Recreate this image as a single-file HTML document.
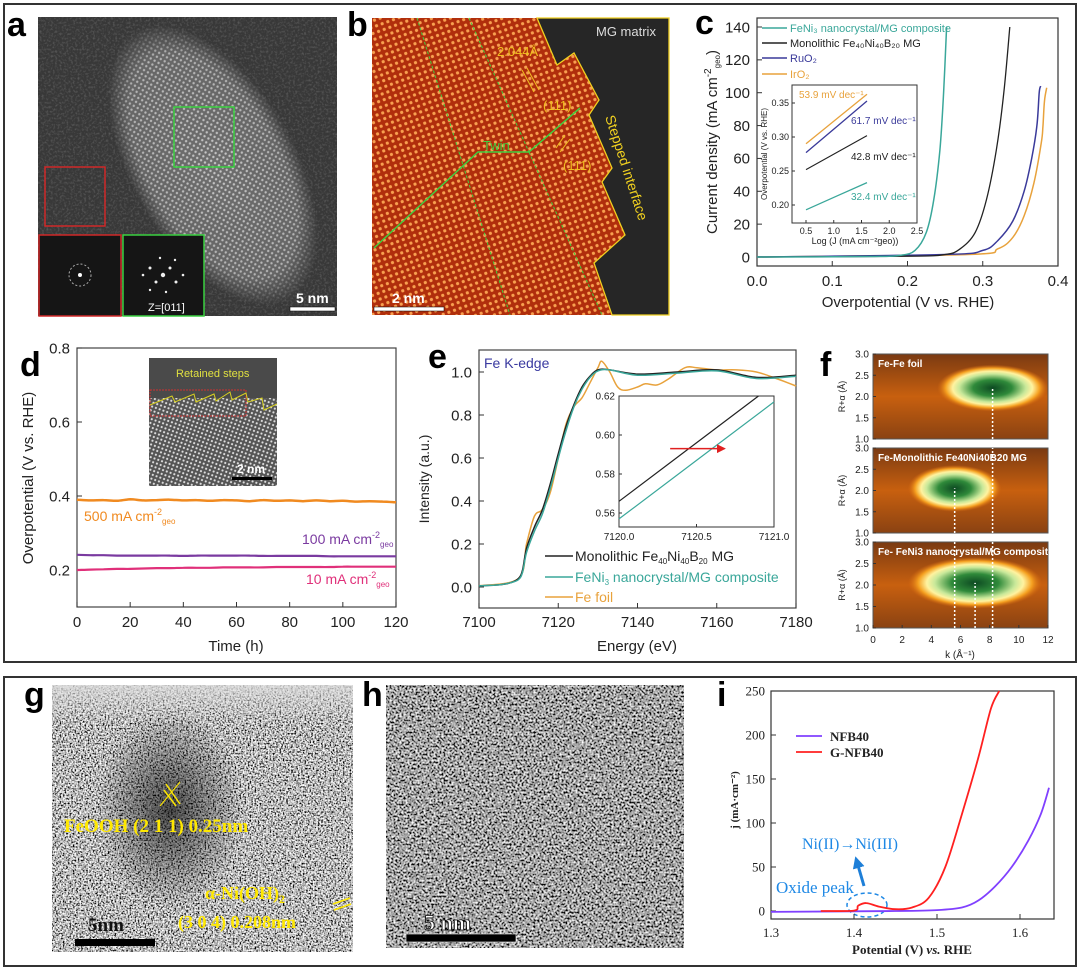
<!DOCTYPE html>
<html><head><meta charset="utf-8">
<style>
html,body{margin:0;padding:0;background:#fff;}
svg{display:block;font-family:"Liberation Sans",Arial,sans-serif;}
.lbl{font-weight:bold;font-size:34px;fill:#000;}
.tk{font-size:14px;fill:#222;}
.serif{font-family:"Liberation Serif",serif;}
</style></head>
<body>
<svg id="fig" width="1080" height="969" viewBox="0 0 1080 969" xmlns="http://www.w3.org/2000/svg">
<defs>
  <pattern id="dotsA" width="4.5" height="4.5" patternUnits="userSpaceOnUse" patternTransform="rotate(30)">
    <rect width="4.5" height="4.5" fill="#6e6e6e"/><circle cx="2.25" cy="2.25" r="1.2" fill="#c8c8c8"/>
  </pattern>
  <pattern id="dotsB" width="6" height="6" patternUnits="userSpaceOnUse" patternTransform="rotate(-20)">
    <rect width="6" height="6" fill="#b02e0c"/><circle cx="3" cy="3" r="1.6" fill="#f8a050"/>
  </pattern>
  <pattern id="dotsD" width="4" height="4" patternUnits="userSpaceOnUse" patternTransform="rotate(20)">
    <rect width="4" height="4" fill="#555"/><circle cx="2" cy="2" r="1.1" fill="#ddd"/>
  </pattern>
  <filter id="noiseG" x="0" y="0" width="100%" height="100%">
    <feTurbulence type="fractalNoise" baseFrequency="0.6" numOctaves="2" seed="3"/>
    <feColorMatrix type="matrix" values="2.6 0 0 0 -0.8  2.6 0 0 0 -0.8  2.6 0 0 0 -0.8  0 0 0 0 1"/>
  </filter>
  <filter id="noiseH" x="0" y="0" width="100%" height="100%">
    <feTurbulence type="fractalNoise" baseFrequency="0.5" numOctaves="2" seed="7"/>
    <feColorMatrix type="matrix" values="2.2 0 0 0 -0.72  2.2 0 0 0 -0.72  2.2 0 0 0 -0.72  0 0 0 0 1"/>
  </filter>
  <filter id="noise2" x="0" y="0" width="100%" height="100%">
    <feTurbulence type="fractalNoise" baseFrequency="0.45" numOctaves="2" seed="7"/>
    <feColorMatrix type="matrix" values="0 0 0 0 1  0 0 0 0 1  0 0 0 0 1  0 0 0 2.2 -1.0"/>
  </filter>
  <radialGradient id="blob" cx="50%" cy="50%" r="50%">
    <stop offset="0" stop-color="#000" stop-opacity="0.65"/>
    <stop offset="1" stop-color="#000" stop-opacity="0"/>
  </radialGradient>
  <radialGradient id="heat" cx="50%" cy="50%" r="50%">
    <stop offset="0" stop-color="#0d4a22"/>
    <stop offset="0.35" stop-color="#2f8a3a"/>
    <stop offset="0.6" stop-color="#c8e89a"/>
    <stop offset="0.72" stop-color="#fff3a0"/>
    <stop offset="0.85" stop-color="#f5a020"/>
    <stop offset="1" stop-color="#d86a10" stop-opacity="0"/>
  </radialGradient>
  <linearGradient id="heatbg" x1="0" y1="0" x2="0" y2="1">
    <stop offset="0" stop-color="#7a3a12"/>
    <stop offset="0.5" stop-color="#c8600f"/>
    <stop offset="1" stop-color="#8a4212"/>
  </linearGradient>
  <linearGradient id="gtop" x1="0" y1="0" x2="0" y2="1">
    <stop offset="0" stop-color="#ddd" stop-opacity="0.8"/>
    <stop offset="1" stop-color="#ddd" stop-opacity="0"/>
  </linearGradient>
  <radialGradient id="brightA" cx="50%" cy="50%" r="50%">
    <stop offset="0" stop-color="#fff" stop-opacity="1"/>
    <stop offset="0.8" stop-color="#fff" stop-opacity="0.85"/>
    <stop offset="1" stop-color="#fff" stop-opacity="0"/>
  </radialGradient>
  <mask id="maskA"><ellipse cx="213" cy="165" rx="155" ry="82" transform="rotate(60 213 165)" fill="url(#brightA)"/></mask>
  <marker id="arrRed" markerWidth="6" markerHeight="6" refX="5" refY="3" orient="auto"><path d="M0,0 L6,3 L0,6z" fill="#e02020"/></marker>
  <marker id="arrBlue" markerWidth="4" markerHeight="4" refX="2" refY="2" orient="auto"><path d="M0,0 L4,2 L0,4z" fill="#1e7fd8"/></marker>
</defs>

<!-- frames -->
<rect x="4" y="4" width="1072" height="658" fill="none" stroke="#333" stroke-width="2"/>
<rect x="4" y="677" width="1072" height="289" fill="none" stroke="#333" stroke-width="2"/>

<!-- panel a -->
<g>
  <rect x="38" y="17" width="299" height="299" fill="#383838"/>
  <rect x="38" y="17" width="299" height="299" filter="url(#noise2)" opacity="0.18"/>
  <rect x="38" y="17" width="299" height="299" fill="url(#dotsA)" mask="url(#maskA)"/>
  <rect x="174" y="107" width="60" height="60" fill="none" stroke="#3ad040" stroke-width="1.5"/>
  <rect x="45" y="167" width="60" height="59" fill="none" stroke="#d02828" stroke-width="1.5"/>
  <rect x="39" y="235" width="82" height="81" fill="#151515" stroke="#d02828" stroke-width="1.5"/>
  <circle cx="80" cy="275" r="11" fill="none" stroke="#aaa" stroke-width="1" stroke-dasharray="2 2"/>
  <circle cx="80" cy="275" r="2" fill="#fff"/>
  <rect x="123" y="235" width="81" height="81" fill="#151515" stroke="#3ad040" stroke-width="1.5"/>
  <g fill="#eee"><circle cx="163" cy="275" r="2.2"/><circle cx="150" cy="268" r="1.5"/><circle cx="176" cy="282" r="1.5"/><circle cx="156" cy="282" r="1.5"/><circle cx="170" cy="268" r="1.5"/><circle cx="143" cy="275" r="1.3"/><circle cx="183" cy="275" r="1.3"/><circle cx="160" cy="258" r="1.2"/><circle cx="166" cy="292" r="1.2"/><circle cx="175" cy="260" r="1.2"/><circle cx="150" cy="290" r="1.2"/></g>
  <text x="148" y="311" font-size="11" fill="#fff">Z=[011]</text>
  <text x="296" y="303" font-size="14" font-weight="bold" fill="#fff">5 nm</text>
  <rect x="290" y="307" width="45" height="4" fill="#fff" stroke="#000" stroke-width="0.5"/>
</g>
<text class="lbl" x="7" y="36">a</text>

<!-- panel b -->
<g>
  <rect x="372" y="18" width="297" height="297" fill="url(#dotsB)"/>
  <polygon points="537,18 557,65 574,53 599,100 589,115 612,168 602,182 625,235 594,263 612,315 669,315 669,18" fill="#262626"/>
  <polygon points="537,18 557,65 574,53 599,100 589,115 612,168 602,182 625,235 594,263 612,315 669,315 669,18" fill="none" stroke="#f0d020" stroke-width="1.3"/>
  <polyline points="374,248 478,152 529,152 580,108" fill="none" stroke="#40d040" stroke-width="1.5"/>
  <line x1="417" y1="18" x2="510" y2="315" stroke="#40d040" stroke-width="1" stroke-dasharray="3 2"/>
  <line x1="469" y1="18" x2="529" y2="152" stroke="#40d040" stroke-width="1" stroke-dasharray="3 2"/>
  <line x1="529" y1="152" x2="602" y2="315" stroke="#40d040" stroke-width="1" stroke-dasharray="3 2"/>
  <text x="596" y="36" font-size="13" fill="#ddd">MG matrix</text>
  <text x="497" y="56" font-size="13" fill="#f0c020">2.044Å</text>
  <line x1="522" y1="70" x2="534" y2="92" stroke="#f0c020"/><line x1="527" y1="68" x2="539" y2="90" stroke="#f0c020"/>
  <text x="543" y="110" font-size="13" fill="#f0c020">(111)</text>
  <line x1="556" y1="148" x2="565" y2="135" stroke="#f0c020"/><line x1="560" y1="152" x2="570" y2="139" stroke="#f0c020"/>
  <text x="563" y="170" font-size="13" fill="#f0c020">(111)</text>
  <text x="483" y="150" font-size="13" fill="#40d040">Twin</text>
  <text x="0" y="0" font-size="14" fill="#f0d020" transform="translate(605,117) rotate(72)">Stepped interface</text>
  <text x="392" y="303" font-size="14" font-weight="bold" fill="#fff">2 nm</text>
  <rect x="374" y="307" width="70" height="4" fill="#fff" stroke="#000" stroke-width="0.5"/>
</g>
<text class="lbl" x="347" y="36">b</text>

<!-- panel c static -->
<text class="lbl" x="695" y="34">c</text>
<rect x="757" y="18" width="301" height="248" fill="none" stroke="#333" stroke-width="1.2"/>
<text x="908" y="307" font-size="15" text-anchor="middle" fill="#222">Overpotential (V vs. RHE)</text>
<text transform="translate(717,142) rotate(-90)" font-size="15" text-anchor="middle" fill="#222">Current density (mA cm<tspan dy="-6" font-size="10">-2</tspan><tspan dy="9" font-size="8">geo</tspan><tspan dy="-3">)</tspan></text>
<g font-size="11">
  <line x1="762" y1="28" x2="787" y2="28" stroke="#3aa79a" stroke-width="1.5"/><text x="790" y="32" fill="#3aa79a">FeNi₃ nanocrystal/MG composite</text>
  <line x1="762" y1="43" x2="787" y2="43" stroke="#222" stroke-width="1.5"/><text x="790" y="47" fill="#222">Monolithic Fe₄₀Ni₄₀B₂₀ MG</text>
  <line x1="762" y1="58" x2="787" y2="58" stroke="#3a3a9a" stroke-width="1.5"/><text x="790" y="62" fill="#3a3a9a">RuO₂</text>
  <line x1="762" y1="74" x2="787" y2="74" stroke="#e8a23c" stroke-width="1.5"/><text x="790" y="78" fill="#e8a23c">IrO₂</text>
</g>
<rect x="792" y="85" width="125" height="138" fill="#fff" stroke="#333" stroke-width="1"/>
<text x="855" y="244" font-size="9" text-anchor="middle" fill="#222">Log (J (mA cm⁻²geo))</text>
<text transform="translate(767,154) rotate(-90)" font-size="8" text-anchor="middle" fill="#222">Overpotential (V vs. RHE)</text>
<g font-size="10">
  <text x="799" y="98" fill="#e8a23c">53.9 mV dec⁻¹</text>
  <text x="851" y="124" fill="#3a3a9a">61.7 mV dec⁻¹</text>
  <text x="851" y="160" fill="#222">42.8 mV dec⁻¹</text>
  <text x="851" y="200" fill="#3aa79a">32.4 mV dec⁻¹</text>
</g>

<!-- panel d static -->
<text class="lbl" x="20" y="376">d</text>
<rect x="77" y="348" width="319" height="259" fill="none" stroke="#444" stroke-width="1.2"/>
<text x="236" y="651" font-size="15" text-anchor="middle" fill="#222">Time (h)</text>
<text transform="translate(33,478) rotate(-90)" font-size="15" text-anchor="middle" fill="#222">Overpotential (V vs. RHE)</text>
<g>
  <rect x="149" y="358" width="128" height="128" fill="#555"/>
  <rect x="149" y="395" width="128" height="91" fill="url(#dotsD)"/>
  <rect x="149" y="358" width="128" height="40" fill="#4a4a4a"/>
  <rect x="150" y="390" width="96" height="26" fill="none" stroke="#d03030" stroke-width="1" stroke-dasharray="2 1"/>
  <polyline points="150,405 172,396 175,402 194,394 196,402 214,394 216,401 230,392 232,400 246,393 248,402 262,398 264,410 277,404" fill="none" stroke="#d8d020" stroke-width="1"/>
  <text x="176" y="377" font-size="11" fill="#e0e040">Retained steps</text>
  <text x="237" y="473" font-size="12" font-weight="bold" fill="#fff">2 nm</text>
  <rect x="232" y="477" width="40" height="3" fill="#000"/>
</g>
<text x="84" y="521" font-size="14" fill="#f08a20">500 mA cm<tspan dy="-6" font-size="9">-2</tspan><tspan dy="9" font-size="8">geo</tspan></text>
<text x="302" y="544" font-size="14" fill="#7a3aa0">100 mA cm<tspan dy="-6" font-size="9">-2</tspan><tspan dy="9" font-size="8">geo</tspan></text>
<text x="306" y="584" font-size="14" fill="#e0307a">10 mA cm<tspan dy="-6" font-size="9">-2</tspan><tspan dy="9" font-size="8">geo</tspan></text>

<!-- panel e static -->
<text class="lbl" x="428" y="368">e</text>
<rect x="479" y="350" width="317" height="258" fill="none" stroke="#444" stroke-width="1.2"/>
<text x="637" y="651" font-size="15" text-anchor="middle" fill="#222">Energy (eV)</text>
<text transform="translate(429,479) rotate(-90)" font-size="14" text-anchor="middle" fill="#222">Intensity (a.u.)</text>
<text x="484" y="368" font-size="14" fill="#3a3aa0">Fe K-edge</text>
<rect x="619" y="396" width="155" height="131" fill="#fff" stroke="#333" stroke-width="1"/>
<g font-size="14">
  <line x1="545" y1="556" x2="573" y2="556" stroke="#222" stroke-width="1.5"/><text x="575" y="561" fill="#222">Monolithic Fe<tspan dy="3" font-size="8">40</tspan><tspan dy="-3">Ni</tspan><tspan dy="3" font-size="8">40</tspan><tspan dy="-3">B</tspan><tspan dy="3" font-size="8">20</tspan><tspan dy="-3"> MG</tspan></text>
  <line x1="545" y1="577" x2="573" y2="577" stroke="#3aa79a" stroke-width="1.5"/><text x="575" y="582" fill="#3aa79a">FeNi<tspan dy="3" font-size="8">3</tspan><tspan dy="-3"> nanocrystal/MG composite</tspan></text>
  <line x1="545" y1="597" x2="573" y2="597" stroke="#e8a23c" stroke-width="1.5"/><text x="575" y="602" fill="#e8a23c">Fe foil</text>
</g>

<!-- panel f static -->
<text class="lbl" x="820" y="376">f</text>
<g id="fmaps"></g>
<text x="960" y="658" font-size="10" text-anchor="middle" fill="#222">k (Å⁻¹)</text>

<!-- bottom panel g -->
<g>
  <rect x="52" y="685" width="301" height="267" filter="url(#noiseG)"/>
  <rect x="52" y="685" width="301" height="40" fill="url(#gtop)"/>
  <ellipse cx="170" cy="810" rx="75" ry="100" fill="url(#blob)"/>
  <line x1="164" y1="790" x2="176" y2="806" stroke="#ffe800" stroke-width="1.5"/><line x1="166" y1="784" x2="180" y2="804" stroke="#ffe800" stroke-width="1.5"/><line x1="160" y1="806" x2="180" y2="782" stroke="#ffe800" stroke-width="1"/>
  <text x="64" y="832" font-size="19" font-weight="bold" fill="#ffe800" class="serif">FeOOH (2 1 1) 0.25nm</text>
  <text x="205" y="899" font-size="18" font-weight="bold" fill="#ffe800" class="serif">α-Ni(OH)<tspan dy="4" font-size="12">2</tspan></text>
  <text x="178" y="928" font-size="18" font-weight="bold" fill="#ffe800" class="serif">(3 0 4) 0.208nm</text>
  <line x1="333" y1="904" x2="350" y2="898" stroke="#ffe800" stroke-width="1.5"/><line x1="334" y1="910" x2="351" y2="904" stroke="#ffe800" stroke-width="1.5"/>
  <text x="88" y="931" font-size="19" font-weight="bold" fill="#111" class="serif">5nm</text>
  <rect x="75" y="939" width="80" height="7" fill="#000"/>
</g>
<text class="lbl" x="24" y="706">g</text>

<!-- panel h -->
<g>
  <rect x="386" y="685" width="298" height="263" filter="url(#noiseH)"/>
  <text x="424" y="930" font-size="22" font-weight="bold" fill="#fff" stroke="#000" stroke-width="0.8" class="serif">5 nm</text>
  <rect x="406" y="934" width="110" height="8" fill="#000" stroke="#fff" stroke-width="0.6"/>
</g>
<text class="lbl" x="362" y="706">h</text>

<!-- panel i static -->
<text class="lbl" x="717" y="706">i</text>
<rect x="771" y="691" width="283" height="228" fill="none" stroke="#333" stroke-width="1.2"/>
<text x="912" y="954" font-size="13" font-weight="bold" text-anchor="middle" class="serif" fill="#222">Potential (V) <tspan font-style="italic">vs.</tspan> RHE</text>
<text transform="translate(738,800) rotate(-90)" font-size="11" font-weight="bold" text-anchor="middle" class="serif" fill="#222">j (mA·cm⁻²)</text>
<g font-size="13" font-weight="bold" class="serif">
  <line x1="796" y1="736" x2="822" y2="736" stroke="#8040ff" stroke-width="1.8"/><text x="830" y="741" fill="#222">NFB40</text>
  <line x1="796" y1="752" x2="822" y2="752" stroke="#ff2020" stroke-width="1.8"/><text x="830" y="757" fill="#222">G-NFB40</text>
</g>
<text x="802" y="849" font-size="16" class="serif" fill="#1e88e5">Ni(II)→Ni(III)</text>
<line x1="864" y1="886" x2="857" y2="862" stroke="#1e7fd8" stroke-width="3" marker-end="url(#arrBlue)"/>
<text x="776" y="893" font-size="17" class="serif" fill="#1e88e5">Oxide peak</text>
<ellipse cx="867" cy="905" rx="20" ry="12" fill="none" stroke="#1e88e5" stroke-width="1.5" stroke-dasharray="4 3"/>

<g id="marks"></g>
</svg>

<script>
// ---------- panel c data ----------
const cFeNi3X = [0, 0.15, 0.19, 0.21, 0.225, 0.235, 0.243, 0.248, 0.252];
const cFeNi3Y = [0, 0.3, 1, 4, 15, 35, 65, 100, 140];
const cMonoX = [0, 0.2, 0.25, 0.27, 0.29, 0.305, 0.318, 0.328, 0.336];
const cMonoY = [0, 0.5, 1.5, 5, 15, 35, 65, 100, 140];
const cRuO2X = [0, 0.25, 0.3, 0.32, 0.34, 0.355, 0.365, 0.372, 0.375, 0.377];
const cRuO2Y = [0, 1.5, 4, 10, 22, 40, 60, 80, 100, 104];
const cIrO2X = [0, 0.28, 0.32, 0.34, 0.355, 0.368, 0.378, 0.38, 0.382, 0.385];
const cIrO2Y = [0, 1.5, 5, 12, 25, 45, 70, 80, 95, 103];
const cXTicks = [0.0, 0.1, 0.2, 0.3, 0.4];
const cXTickLabels = ["0.0", "0.1", "0.2", "0.3", "0.4"];
const cYTicks = [0, 20, 40, 60, 80, 100, 120, 140];
const cInsetX = [0.5, 1.6];
const cInsetIrO2 = [0.290, 0.363];
const cInsetRuO2 = [0.277, 0.353];
const cInsetMono = [0.252, 0.302];
const cInsetFeNi3 = [0.193, 0.233];
const cInsetXTicks = [0.5, 1.0, 1.5, 2.0, 2.5];
const cInsetXTickLabels = ["0.5", "1.0", "1.5", "2.0", "2.5"];
const cInsetYTicks = [0.20, 0.25, 0.30, 0.35];
const cInsetYTickLabels = ["0.20", "0.25", "0.30", "0.35"];

// ---------- panel d data ----------
const dTime = [0,5,10,15,20,25,30,35,40,45,50,55,60,65,70,75,80,85,90,95,100,105,110,115,120];
const d500 = [0.390,0.388,0.389,0.387,0.391,0.388,0.389,0.390,0.388,0.389,0.387,0.389,0.388,0.386,0.389,0.387,0.388,0.386,0.388,0.386,0.387,0.385,0.386,0.385,0.383];
const d100 = [0.241,0.240,0.240,0.239,0.239,0.239,0.239,0.239,0.238,0.239,0.239,0.239,0.239,0.239,0.238,0.238,0.238,0.238,0.238,0.237,0.237,0.237,0.237,0.237,0.237];
const d10 = [0.200,0.201,0.202,0.203,0.203,0.204,0.205,0.205,0.206,0.206,0.206,0.207,0.207,0.207,0.207,0.208,0.208,0.208,0.208,0.208,0.209,0.209,0.209,0.209,0.209];
const dXTicks = [0, 20, 40, 60, 80, 100, 120];
const dYTicks = [0.2, 0.4, 0.6, 0.8];
const dYTickLabels = ["0.2", "0.4", "0.6", "0.8"];

// ---------- panel e data ----------
const eMonoX = [7100,7105,7108,7110,7111,7112,7114,7116,7118,7120,7122,7124,7126,7128,7130,7133,7140,7150,7160,7170,7180];
const eMonoY = [0.005,0.01,0.02,0.04,0.08,0.18,0.28,0.36,0.48,0.62,0.75,0.85,0.93,0.98,1.01,1.01,0.99,1.0,1.01,0.975,0.985];
const eFeNi3X = [7100,7105,7108,7110,7111,7112,7114,7116,7118,7120,7122,7124,7126,7128,7130,7133,7140,7150,7160,7170,7180];
const eFeNi3Y = [0.005,0.01,0.02,0.035,0.07,0.16,0.26,0.34,0.46,0.60,0.73,0.84,0.92,0.975,1.005,1.01,0.985,0.995,1.005,0.97,0.98];
const eFoilX = [7100,7110,7112,7114,7116,7118,7120,7122,7124,7126,7128,7130,7131,7133,7135,7137,7140,7142,7145,7148,7152,7155,7160,7165,7170,7175,7180];
const eFoilY = [0.005,0.04,0.2,0.33,0.36,0.44,0.6,0.76,0.84,0.88,0.95,1.02,1.05,1.0,0.93,0.915,0.93,0.945,0.94,0.97,1.02,1.02,1.01,1.01,1.0,0.97,0.935];
const eXTicks = [7100, 7120, 7140, 7160, 7180];
const eYTicks = [0.0, 0.2, 0.4, 0.6, 0.8, 1.0];
const eYTickLabels = ["0.0", "0.2", "0.4", "0.6", "0.8", "1.0"];
const eInsetMonoX = [7120, 7120.9];
const eInsetMonoY = [0.566, 0.620];
const eInsetFeNi3X = [7120, 7121];
const eInsetFeNi3Y = [0.557, 0.617];
const eInsetXTicks = [7120.0, 7120.5, 7121.0];
const eInsetXTickLabels = ["7120.0", "7120.5", "7121.0"];
const eInsetYTicks = [0.56, 0.58, 0.60, 0.62];
const eInsetYTickLabels = ["0.56", "0.58", "0.60", "0.62"];

// ---------- panel f data ----------
const fTitles = ["Fe-Fe foil", "Fe-Monolithic Fe40Ni40B20 MG", "Fe- FeNi3 nanocrystal/MG composite"];
const fPeakK = [8.2, 5.6, 7.0];
const fPeakR = [2.2, 2.05, 2.05];
const fSpreadK = [3.8, 3.2, 4.6];
const fSpreadR = [0.55, 0.55, 0.6];
const fXTicks = [0, 2, 4, 6, 8, 10, 12];
const fYTicks = [1.0, 1.5, 2.0, 2.5, 3.0];
const fYTickLabels = ["1.0", "1.5", "2.0", "2.5", "3.0"];

// ---------- panel i data ----------
const iNFBX = [1.30,1.45,1.50,1.53,1.55,1.57,1.59,1.61,1.625,1.635];
const iNFBY = [-1,0,1,4,12,28,50,80,110,140];
const iGNFBX = [1.36,1.40,1.405,1.415,1.43,1.45,1.47,1.49,1.51,1.53,1.55,1.565,1.575];
const iGNFBY = [0,0.5,6,9,5,2,4,15,50,110,175,230,250];
const iXTicks = [1.3, 1.4, 1.5, 1.6];
const iYTicks = [0, 50, 100, 150, 200, 250];

// ---------- helpers ----------
const NS = "http://www.w3.org/2000/svg";
const root = document.getElementById("marks");
function lin(d0, d1, r0, r1) { return v => r0 + (v - d0) * (r1 - r0) / (d1 - d0); }
function el(tag, attrs, parent) {
  const e = document.createElementNS(NS, tag);
  for (const k in attrs) e.setAttribute(k, attrs[k]);
  (parent || root).appendChild(e);
  return e;
}
function smoothPath(xs, ys, sx, sy) {
  const p = xs.map((x, i) => [sx(x), sy(ys[i])]);
  let d = "M" + p[0][0].toFixed(1) + "," + p[0][1].toFixed(1);
  for (let i = 0; i < p.length - 1; i++) {
    const p0 = p[i - 1] || p[i], p1 = p[i], p2 = p[i + 1], p3 = p[i + 2] || p2;
    const c1x = p1[0] + (p2[0] - p0[0]) / 6, c1y = p1[1] + (p2[1] - p0[1]) / 6;
    const c2x = p2[0] - (p3[0] - p1[0]) / 6, c2y = p2[1] - (p3[1] - p1[1]) / 6;
    d += " C" + c1x.toFixed(1) + "," + c1y.toFixed(1) + " " + c2x.toFixed(1) + "," + c2y.toFixed(1) + " " + p2[0].toFixed(1) + "," + p2[1].toFixed(1);
  }
  return d;
}
function series(xs, ys, sx, sy, color, w, name) {
  const e = el("path", { d: smoothPath(xs, ys, sx, sy), fill: "none", stroke: color, "stroke-width": w });
  
  
  return e;
}
function xTicks(vals, labels, sx, y0, len, ty, fs, cls, name) {
  vals.forEach((v, i) => {
    const t = el("line", { x1: sx(v), x2: sx(v), y1: y0, y2: y0 - len, stroke: "#333", "stroke-width": 1 });
    
    
    const tx = el("text", { x: sx(v), y: ty, "font-size": fs, "text-anchor": "middle", fill: "#222", class: cls || "" });
    tx.textContent = labels[i];
    
    
  });
}
function yTicks(vals, labels, sy, x0, len, tx, fs, cls, name) {
  vals.forEach((v, i) => {
    const t = el("line", { x1: x0, x2: x0 + len, y1: sy(v), y2: sy(v), stroke: "#333", "stroke-width": 1 });
    
    
    const tt = el("text", { x: tx, y: sy(v) + fs * 0.35, "font-size": fs, "text-anchor": "end", fill: "#222", class: cls || "" });
    tt.textContent = labels[i];
    
    
  });
}

// ---------- panel c ----------
{
  const sx = lin(0, 0.4, 757, 1058), sy = lin(0, 140, 257, 27);
  xTicks(cXTicks, cXTickLabels, sx, 266, 5, 286, 15, "", "c-x");
  yTicks(cYTicks, cYTicks.map(String), sy, 757, 5, 750, 15, "", "c-y");
  const clip = el("clipPath", { id: "clipC" });
  el("rect", { x: 757, y: 18, width: 301, height: 248 }, clip);
  const g = el("g", { "clip-path": "url(#clipC)" });
  
  
  g.appendChild(series(cIrO2X, cIrO2Y, sx, sy, "#e8a23c", 1.5, "series-iro2"));
  g.appendChild(series(cRuO2X, cRuO2Y, sx, sy, "#3a3a9a", 1.5, "series-ruo2"));
  g.appendChild(series(cMonoX, cMonoY, sx, sy, "#222", 1.3, "series-monolithic"));
  g.appendChild(series(cFeNi3X, cFeNi3Y, sx, sy, "#3aa79a", 1.5, "series-feni3"));
  const ix = lin(0.5, 2.5, 806, 917), iy = lin(0.20, 0.35, 205, 103);
  xTicks(cInsetXTicks, cInsetXTickLabels, ix, 223, 3, 234, 9, "", "c-inset-x");
  yTicks(cInsetYTicks, cInsetYTickLabels, iy, 792, 3, 789, 9, "", "c-inset-y");
  series(cInsetX, cInsetIrO2, ix, iy, "#e8a23c", 1.3, "inset-iro2");
  series(cInsetX, cInsetRuO2, ix, iy, "#3a3a9a", 1.3, "inset-ruo2");
  series(cInsetX, cInsetMono, ix, iy, "#222", 1.1, "inset-monolithic");
  series(cInsetX, cInsetFeNi3, ix, iy, "#3aa79a", 1.3, "inset-feni3");
}

// ---------- panel d ----------
{
  const sx = lin(0, 120, 77, 396), sy = lin(0.2, 0.8, 570, 348);
  xTicks(dXTicks, dXTicks.map(String), sx, 607, 5, 627, 15, "", "d-x");
  yTicks(dYTicks, dYTickLabels, sy, 77, 5, 70, 15, "", "d-y");
  series(dTime, d500, sx, sy, "#f08a20", 2.5, "series-500");
  series(dTime, d100, sx, sy, "#7a3aa0", 2.2, "series-100");
  series(dTime, d10, sx, sy, "#e0307a", 2.2, "series-10");
}

// ---------- panel e ----------
{
  const sx = lin(7100, 7180, 479, 796), sy = lin(0, 1.0, 587, 372);
  xTicks(eXTicks, eXTicks.map(String), sx, 608, 5, 627, 15, "", "e-x");
  yTicks(eYTicks, eYTickLabels, sy, 479, 5, 472, 15, "", "e-y");
  series(eFoilX, eFoilY, sx, sy, "#e8a23c", 1.5, "series-fe-foil");
  series(eMonoX, eMonoY, sx, sy, "#222", 1.5, "series-monolithic-e");
  series(eFeNi3X, eFeNi3Y, sx, sy, "#3aa79a", 1.5, "series-feni3-e");
  const bg = el("rect", { x: 619, y: 396, width: 155, height: 131, fill: "#fff", stroke: "#333", "stroke-width": 1 });
  
  
  const ix = lin(7120, 7121, 619, 774), iy = lin(0.56, 0.62, 513, 396);
  xTicks(eInsetXTicks, eInsetXTickLabels, ix, 527, 3, 540, 10, "", "e-inset-x");
  yTicks(eInsetYTicks, eInsetYTickLabels, iy, 619, 3, 615, 10, "", "e-inset-y");
  series(eInsetMonoX, eInsetMonoY, ix, iy, "#222", 1.2, "inset-e-monolithic");
  series(eInsetFeNi3X, eInsetFeNi3Y, ix, iy, "#3aa79a", 1.2, "inset-e-feni3");
  const ar = el("line", { x1: ix(7120.33), x2: ix(7120.68), y1: iy(0.593), y2: iy(0.593), stroke: "#e02020", "stroke-width": 1.5, "marker-end": "url(#arrRed)" });
  
  
}

// ---------- panel f ----------
{
  const fg = document.getElementById("fmaps");
  const tops = [354, 448, 542], bots = [439, 533, 628];
  const sx = lin(0, 12, 873, 1048);
  fTitles.forEach((title, i) => {
    const sy = lin(1.0, 3.0, bots[i], tops[i]);
    const cp = el("clipPath", { id: "clipF" + i }, fg);
    el("rect", { x: 873, y: tops[i], width: 175, height: bots[i] - tops[i] }, cp);
    const g = el("g", { "clip-path": "url(#clipF" + i + ")" }, fg);
    
    
    el("rect", { x: 873, y: tops[i], width: 175, height: bots[i] - tops[i], fill: "url(#heatbg)" }, g);
    const cx = sx(fPeakK[i]), cy = sy(fPeakR[i]);
    const rx = sx(fSpreadK[i]) - sx(0), ry = sy(1.0) - sy(1.0 + fSpreadR[i]);
    const blob = el("ellipse", { cx: cx, cy: cy, rx: rx, ry: ry, fill: "url(#heat)" }, g);
    
    
    const fr = el("rect", { x: 873, y: tops[i], width: 175, height: bots[i] - tops[i], fill: "none", stroke: "#555", "stroke-width": 1 }, fg);
    
    
    const tt = el("text", { x: 878, y: tops[i] + 13, "font-size": 10, "font-weight": "bold", fill: "#fff" }, fg);
    tt.textContent = title;
    
    
    yTicks(fYTicks, fYTickLabels, sy, 873, 3, 869, 10, "", "f-y" + i);
    const yl = el("text", { transform: "translate(845," + ((tops[i] + bots[i]) / 2) + ") rotate(-90)", "font-size": 9, "text-anchor": "middle", fill: "#222" }, fg);
    yl.textContent = "R+α (Å)";
    
    
    for (let j = 0; j <= i; j++) {
      const k = fPeakK[j];
      const dl = el("line", { x1: sx(k), x2: sx(k), y1: bots[i], y2: j === i ? sy(fPeakR[i]) : tops[i], stroke: "#fff", "stroke-width": 1.5, "stroke-dasharray": "2 2" }, fg);
      
      
    }
  });
  xTicks(fXTicks, fXTicks.map(String), sx, 628, 3, 643, 10, "", "f-x");
}

// ---------- panel i ----------
{
  const sx = lin(1.3, 1.6, 771, 1020), sy = lin(0, 250, 911, 691);
  xTicks(iXTicks, iXTicks.map(v => v.toFixed(1)), sx, 919, 5, 937, 13, "serif", "i-x");
  yTicks(iYTicks, iYTicks.map(String), sy, 771, 5, 765, 13, "serif", "i-y");
  series(iNFBX, iNFBY, sx, sy, "#8040ff", 1.8, "series-nfb40");
  series(iGNFBX, iGNFBY, sx, sy, "#ff2020", 1.8, "series-g-nfb40");
}
</script>
</body></html>
